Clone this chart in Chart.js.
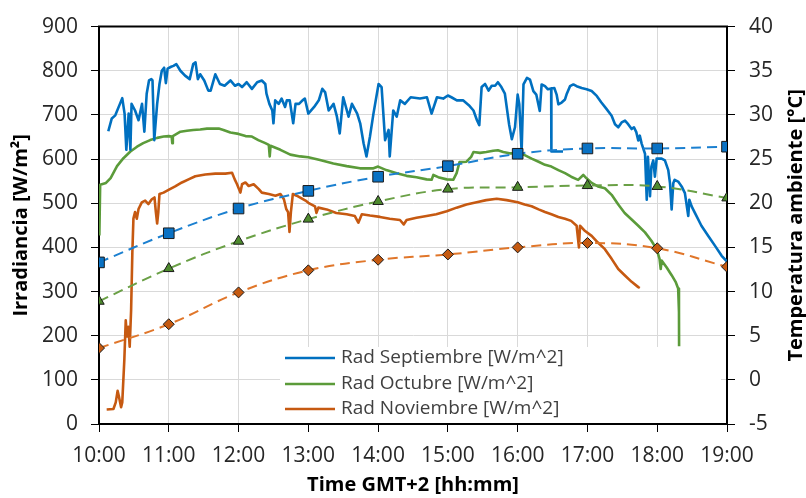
<!DOCTYPE html>
<html>
<head>
<meta charset="utf-8">
<script src="https://cdn.jsdelivr.net/npm/chart.js"></script>
<style>
  html, body { margin: 0; padding: 0; background: #fff; }
  canvas { display: block; }
</style>
</head>
<body>
<canvas id="chart" width="806" height="498"></canvas>
<script>
// hourly temperature readings (right axis)
const tempHours = [10, 11, 12, 13, 14, 15, 16, 17, 18, 19];
const tempSep = [13.3, 16.6, 19.4, 21.4, 23.0, 24.2, 25.6, 26.2, 26.2, 26.4];
const tempOct = [8.9, 12.6, 15.7, 18.2, 20.2, 21.6, 21.8, 22.0, 21.9, 20.6];
const tempNov = [3.6, 6.3, 9.9, 12.4, 13.6, 14.2, 15.0, 15.5, 14.9, 12.8];

// irradiance, minutes after 10:00 and W/m2 (null = break in the trace)
const sepMin = [8, 11, 14, 18, 20, 22, 23.5, 25.5, 27, 28, 31, 34, 37, 39, 41, 43, 45, 46, 47.5, 50, 52, 54, 56, 57.5, 59, 62, 64, 66.5, 70, 74, 78, 81, 83, 85, 87, 90.5, 94, 96, 100, 104, 108, 113, 117, 120, 123, 127, 131.5, 136, 140, 143, 144, 146.5, 149, 150, 151.5, 154.5, 157, 160, 161.5, 164, 167, 169, 172, 175, 177, 180, 185, 189, 192, 194.5, 197.5, 201.7, 204.6, 207, 210, 214.6, 217.5, 222, 224.6, 227.5, 230, 233, 236, 240.4, 243, 246, 249, 250, 253, 256, 259, 263, 268, 276, 282, 286, 290.6, 296, 300, 303, 307.7, 313, 318, 322, 325, 327, 329, 332, 335, 337.7, 340.6, 343, 346, 349, 352.6, 355, 357.7, 360, 361.4, 363.4, 365, 368, 370.6, 373.5, 376, 379, 380.6, 383.5, 386, 388.8, 389, 399, 399.1, 389.2, 391.5, 393.5, 395, 397.8, 400.7, 402, 405, 407.9, 410.7, 415, 419.3, 423.6, 428, 432, 436.5, 440.8, 443.7, 446.5, 449.4, 452.3, 455, 458, 460, 462, 463.7, 465, 466.6, 469.5, 471, 472, 473.8, 475, 476.6, 478, 479.5, 483.8, 486.6, 489.5, 491, 492.4, 493.8, 495, 498, 501, 503.8, 506.7, 507.6, 509.6, 512.4, 518, 523.9, 529.6, 535.4, 540];
const sepRad = [663, 692, 699, 725, 738, 703, 621, 703, 621, 725, 710, 688, 725, 662, 748, 778, 781, 778, 643, 725, 770, 800, 807, 772, 805, 809, 811, 815, 800, 789, 781, 815, 819, 781, 792, 778, 755, 755, 792, 770, 766, 778, 766, 770, 763, 774, 759, 774, 778, 770, 748, 725, 710, 681, 733, 725, 737, 718, 733, 733, 681, 725, 725, 733, 737, 703, 718, 733, 759, 751, 710, 725, 696, 658, 740, 696, 725, 703, 681, 636, 606, 651, 703, 770, 763, 643, 666, 606, 710, 696, 733, 725, 740, 737, 740, 703, 740, 737, 744, 740, 733, 733, 722, 710, 688, 677, 763, 770, 755, 766, 766, 774, 763, 748, 679, 645, 672, 746, 724, 617, 769, 784, 780, 754, 746, 709, 769, 765, 758, 760, 617, 617, null, 760, 761, 746, 724, 728, 735, 746, 765, 769, 765, 761, 758, 754, 743, 728, 713, 698, 679, 672, 683, 687, 679, 668, 672, 661, 642, 653, 635, 612, 508, 605, 516, 583, 597, 560, 601, 601, 597, 575, 545, 486, 545, 553, 549, 538, 523, 471, 508, 493, 478, 449, 426, 404, 381, 368];

const octMin = [0.3, 1, 6, 10, 15.5, 21, 27, 32.7, 38, 44, 50, 55.6, 60, 62.5, 63, 63.5, 70, 75.6, 81, 87, 92.8, 98.6, 103, 107, 113, 120, 126, 131.5, 137, 143, 146, 146.8, 147.5, 156, 164.5, 173, 180, 190, 201.5, 213, 224.4, 236, 240, 247, 256, 264.5, 273, 281.7, 286, 287.5, 291.7, 299, 304.6, 307.5, 310, 316, 320, 322, 327.6, 333, 339, 343, 347.6, 353, 360, 366, 372, 378, 383.5, 389, 395, 400.7, 406, 412, 416.4, 419, 423.6, 429, 435, 440.8, 446.5, 452, 458, 463.7, 469.5, 475, 479.5, 482, 483, 483.8, 488, 492.4, 495.8, 498, 498.7, 498.8];
const octRad = [427, 542, 546, 557, 584, 602, 617, 628, 636, 643, 648, 651, 652, 651, 636, 652, 662, 664, 666, 667, 669, 669, 669, 666, 660, 657, 652, 651, 643, 636, 632, 606, 630, 621, 610, 606, 604, 598, 590, 584, 579, 579, 583, 575, 568, 562, 559, 554, 553, 564, 559, 554, 553, 568, 593, 594, 605, 616, 614, 616, 619, 620, 616, 613, 613, 609, 601, 594, 587, 583, 575, 568, 560, 553, 564, 557, 546, 538, 534, 519, 497, 478, 463, 449, 434, 415, 396, 374, 351, 370, 355, 337, 322, 307, 254, 176];

const novMin = [6.6, 12.4, 14.4, 16, 17, 19, 20, 21.8, 23, 24, 25.3, 26.4, 27.6, 28.7, 29.6, 31, 32.5, 34, 36.8, 39.7, 42.5, 45.4, 47.7, 48.9, 50, 51, 52, 55.5, 59.8, 65.5, 71.3, 77, 82.8, 91.4, 100, 108.6, 114.4, 116.7, 118.7, 121.6, 123, 125.9, 128.7, 133, 137.4, 140, 146, 151.7, 156, 159, 161, 162.6, 163.8, 165, 166.7, 170, 177.6, 180, 185.7, 187, 188.6, 195.8, 204, 213, 220, 223, 226, 233, 241.6, 250, 258.8, 262, 264.5, 273, 281.7, 290, 299, 307.5, 316, 324.7, 333, 342, 350.5, 360, 366, 372, 378, 383.5, 389, 395, 400.7, 406, 410.7, 412.7, 413.6, 418, 423.6, 429, 435, 440.8, 446.5, 452, 458, 463.7, 465];
const novRad = [33, 34, 49, 75, 64, 38, 49, 146, 235, 198, 220, 175, 257, 391, 465, 480, 465, 487, 502, 506, 498, 509, 513, 480, 454, 480, 521, 524, 530, 538, 547, 554, 561, 565, 567, 567, 569, 554, 543, 524, 543, 547, 539, 543, 532, 524, 521, 517, 521, 509, 487, 480, 435, 480, 521, 517, 506, 501, 493, 478, 490, 486, 478, 475, 471, 456, 475, 472, 469, 465, 462, 452, 462, 467, 471, 475, 482, 490, 497, 502, 507, 510, 507, 502, 497, 493, 486, 480, 475, 469, 465, 460, 449, 400, 449, 437, 426, 411, 396, 374, 351, 337, 322, 310, 308];

const legendLabels = ['Rad Septiembre [W/m^2]', 'Rad Octubre [W/m^2]', 'Rad Noviembre [W/m^2]'];
const lineColors = ['#0070C0', '#5B9B3A', '#C65911'];

function toPoints(mins, vals) {
    return mins.map((m, i) => ({ x: 10 + m / 60, y: vals[i] }));
}
function hourPoints(vals) {
    return tempHours.map((h, i) => ({ x: h, y: vals[i] }));
}

const FONT = 'Open Sans';

// legend drawn inside the plot on a white box, as in the reference
const insideLegend = {
    id: 'insideLegend',
    beforeDatasetsDraw(chart) {
        const ctx = chart.ctx;
        ctx.save();
        ctx.fillStyle = '#fff';
        ctx.fillRect(280, 347, 441, 76);
        ctx.restore();
    },
    afterDatasetsDraw(chart) {
        const ctx = chart.ctx;
        ctx.save();
        ctx.font = '19px "' + FONT + '"';
        ctx.textBaseline = 'middle';
        ctx.textAlign = 'left';
        const rows = [358, 384, 409];
        legendLabels.forEach((txt, i) => {
            ctx.strokeStyle = lineColors[i];
            ctx.lineWidth = 2.6;
            ctx.beginPath();
            ctx.moveTo(285, rows[i]);
            ctx.lineTo(335, rows[i]);
            ctx.stroke();
            ctx.fillStyle = '#404040';
            ctx.fillText(txt, 341, rows[i]);
        });
        ctx.restore();
    }
};

// top frame line and right axis title (reads bottom to top)
const frameAndTitle = {
    id: 'frameAndTitle',
    afterDraw(chart) {
        const ctx = chart.ctx;
        const a = chart.chartArea;
        ctx.save();
        ctx.strokeStyle = '#000';
        ctx.lineWidth = 2;
        ctx.beginPath();
        ctx.moveTo(a.left - 1, a.top);
        ctx.lineTo(a.right + 1, a.top);
        ctx.stroke();
        ctx.translate(796, (a.top + a.bottom) / 2);
        ctx.rotate(-Math.PI / 2);
        ctx.font = 'bold 20px "' + FONT + '"';
        ctx.fillStyle = '#000';
        ctx.textAlign = 'center';
        ctx.textBaseline = 'middle';
        ctx.fillText('Temperatura ambiente [°C]', 0, 0);
        ctx.restore();
    }
};

const tempDs = (label, vals, color, fill, style, radius) => ({
    label: label,
    data: hourPoints(vals),
    yAxisID: 'y2',
    borderColor: color,
    borderWidth: 2,
    borderDash: [10, 6],
    tension: 0.4,
    pointStyle: style,
    pointRadius: radius,
    pointBackgroundColor: fill,
    pointBorderColor: '#1a1a1a',
    pointBorderWidth: 1,
    order: 0
});

const radDs = (label, mins, vals, color) => ({
    label: label,
    data: toPoints(mins, vals),
    yAxisID: 'y',
    borderColor: color,
    borderWidth: 2.6,
    borderJoinStyle: 'round',
    pointRadius: 0,
    tension: 0,
    spanGaps: false,
    order: 1
});

const tickFont = { family: FONT, size: 21 };
const titleFont = { family: FONT, size: 20, weight: 'bold' };

new Chart(document.getElementById('chart'), {
    type: 'line',
    data: {
        datasets: [
            tempDs('Temp Septiembre', tempSep, '#1C80D0', '#0A72C4', 'rect', 7.5),
            tempDs('Temp Octubre', tempOct, '#6AA046', '#4E8A2E', 'triangle', 6),
            tempDs('Temp Noviembre', tempNov, '#E0762A', '#C55A11', 'rectRot', 5.5),
            radDs(legendLabels[0], sepMin, sepRad, lineColors[0]),
            radDs(legendLabels[1], octMin, octRad, lineColors[1]),
            radDs(legendLabels[2], novMin, novRad, lineColors[2])
        ]
    },
    options: {
        responsive: false,
        animation: false,
        devicePixelRatio: 1,
        layout: { padding: { top: 22, left: 0, right: 0, bottom: 0 } },
        plugins: { legend: { display: false }, tooltip: { enabled: false } },
        scales: {
            x: {
                type: 'linear',
                min: 10,
                max: 19,
                ticks: {
                    stepSize: 1,
                    autoSkip: false,
                    maxRotation: 0,
                    font: tickFont,
                    color: '#262626',
                    padding: 11,
                    callback: v => v + ':00'
                },
                grid: { color: '#d9d9d9', tickColor: '#000', tickLength: 8 },
                border: { color: '#000', width: 2 },
                title: { display: true, text: 'Time GMT+2 [hh:mm]', font: titleFont, color: '#000', padding: { top: 0, bottom: 1 } },
                afterFit: s => { s.height = 74; }
            },
            y: {
                position: 'left',
                min: 0,
                max: 900,
                ticks: { stepSize: 100, font: tickFont, color: '#262626', padding: 13 },
                grid: { color: '#d9d9d9', tickColor: '#000', tickLength: 8 },
                border: { color: '#000', width: 2 },
                title: { display: true, text: 'Irradiancia [W/m²]', font: titleFont, color: '#000', padding: { top: 9, bottom: 0 } },
                afterFit: s => { s.width = 99; }
            },
            y2: {
                position: 'right',
                min: -5,
                max: 40,
                ticks: { stepSize: 5, font: tickFont, color: '#262626', padding: 14 },
                grid: { drawOnChartArea: false, tickColor: '#000', tickLength: 8 },
                border: { color: '#000', width: 2 },
                afterFit: s => { s.width = 79; }
            }
        }
    },
    plugins: [insideLegend, frameAndTitle]
});
</script>
</body>
</html>
